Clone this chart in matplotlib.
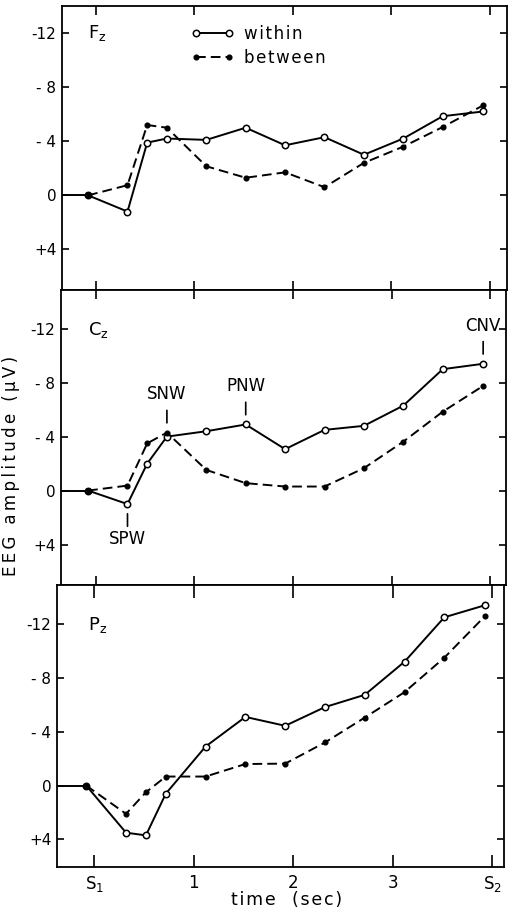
import matplotlib
matplotlib.use("Agg")
import matplotlib.pyplot as plt

# ---- data ----
t = [-0.08, 0.32, 0.52, 0.72, 1.12, 1.52, 1.92, 2.32, 2.72, 3.12, 3.52, 3.93]
fz_within = [0.0, 1.2, -3.9, -4.2, -4.1, -5.0, -3.7, -4.3, -3.0, -4.2, -5.85, -6.2]
fz_between = [0.0, -0.75, -5.2, -5.0, -2.15, -1.3, -1.7, -0.6, -2.4, -3.6, -5.05, -6.65]
cz_within = [0.0, 1.0, -2.0, -4.0, -4.4, -4.9, -3.07, -4.5, -4.8, -6.3, -9.0, -9.4]
cz_between = [0.0, -0.37, -3.5, -4.3, -1.53, -0.55, -0.3, -0.3, -1.66, -3.63, -5.85, -7.76]
pz_within = [0.0, 3.5, 3.7, 0.6, -2.9, -5.1, -4.44, -5.83, -6.74, -9.2, -12.5, -13.4]
pz_between = [0.0, 2.1, 0.5, -0.67, -0.67, -1.6, -1.63, -3.2, -5.05, -6.94, -9.5, -12.6]

panel_names = [r'$\mathrm{F_z}$', r'$\mathrm{C_z}$', r'$\mathrm{P_z}$']
x_ticks = [0, 1, 2, 3, 4]
x_ticklabels = [r'$\mathrm{S_1}$', '1', '2', '3', r'$\mathrm{S_2}$']
y_ticks = [-12, -8, -4, 0, 4]
y_ticklabels = ['-12', '- 8', '- 4', '0', '+4']
series_labels = ['within', 'between']
y_label = 'EEG amplitude (µV)'
x_label = 'time  (sec)'

# annotations in Cz panel: (label, series, index, direction)
cz_notes = [('SPW', 'within', 1, -1), ('SNW', 'between', 3, 1),
            ('PNW', 'within', 5, 1), ('CNV', 'within', 11, 1)]

plt.rcParams['font.family'] = ['DejaVu Sans']
plt.rcParams['mathtext.fontset'] = 'dejavusans'


def spaced(s, sep='\u2009'):
    return sep.join(s)


W, H = 508, 910
fig = plt.figure(figsize=(W / 100, H / 100), dpi=100)

# pixel boxes (left, right, top, bottom)
boxes = [(62, 507, 6, 290), (61, 506, 290, 585), (57, 504, 585, 867)]
xlims = [(-0.345, 4.173), (-0.355, 4.162), (-0.374, 4.12)]
ylims = [(7.0, -14.0), (7.0, -14.87), (6.05, -14.9)]
label_y = [33, 330, 625]
data = [(fz_within, fz_between), (cz_within, cz_between), (pz_within, pz_between)]

lw = 1.4
axes = []
for i, ((l, r, tp, b), xl, yl, (wv, bv)) in enumerate(zip(boxes, xlims, ylims, data)):
    ax = fig.add_axes([l / W, (H - b) / H, (r - l) / W, (b - tp) / H])
    axes.append(ax)
    ax.set_xlim(*xl)
    ax.set_ylim(*yl)
    # prestimulus baseline
    ax.hlines(0, xl[0], t[0], color='black', lw=lw)
    ax.plot(t, wv, '-', color='black', lw=lw, marker='o', ms=4.6,
            mfc='white', mec='black', mew=1.1, label=series_labels[0], zorder=3)
    ax.plot(t, bv, color='black', lw=lw, ls=(0, (5, 2.6)), marker='o', ms=3.4,
            mfc='black', mec='black', label=series_labels[1], zorder=3)
    ax.set_xticks(x_ticks)
    ax.set_yticks(y_ticks)
    ax.tick_params(axis='both', direction='in', length=6.5, width=1.2,
                   top=True, right=True, labelsize=11, pad=4)
    ax.tick_params(axis='y', length=5)
    ax.set_yticklabels(y_ticklabels)
    if i < 2:
        ax.set_xticklabels([])
    else:
        ax.set_xticklabels(x_ticklabels, fontsize=12)
        ax.tick_params(axis='x', length=9, pad=5)
    for s in ax.spines.values():
        s.set_linewidth(1.3)
    ax.text((88 - l) / (r - l), (b - label_y[i]) / (b - tp),
            panel_names[i], transform=ax.transAxes, fontsize=13,
            ha='left', va='center')

# legend in top panel
l, r, tp, b = boxes[0]
leg = axes[0].legend(loc='upper left',
                     bbox_to_anchor=((191 - l) / (r - l), (b - 25) / (b - tp)),
                     frameon=False, numpoints=2, handlelength=2.6,
                     handletextpad=0.6, labelspacing=0.35, fontsize=12,
                     borderpad=0, borderaxespad=0)
for txt in leg.get_texts():
    txt.set_text(spaced(txt.get_text(), '\u200a'))

# Cz annotations
axc = axes[1]
series_map = {'within': cz_within, 'between': cz_between}
for lab, ser, idx, d in cz_notes:
    x, y = t[idx], series_map[ser][idx]
    gap = 7.0
    length = 9.0
    axc.annotate('', xy=(x, y), xytext=(0, d * (gap + length)),
                 textcoords='offset points',
                 arrowprops=dict(arrowstyle='-', lw=1.2, color='black',
                                 shrinkA=0, shrinkB=gap))
    axc.annotate(lab, xy=(x, y), xytext=(0, d * (gap + length + (5 if d > 0 else 3))),
                 textcoords='offset points', ha='center',
                 va='bottom' if d > 0 else 'top', fontsize=12)

fig.text(11 / W, 1 - 466 / H, spaced(y_label), rotation=90,
         ha='center', va='center', fontsize=12)
fig.text(287 / W, 1 - 900 / H, spaced(x_label, '\u200a'), ha='center', va='center',
         fontsize=12.5)

fig.savefig('out.png', dpi=100)
